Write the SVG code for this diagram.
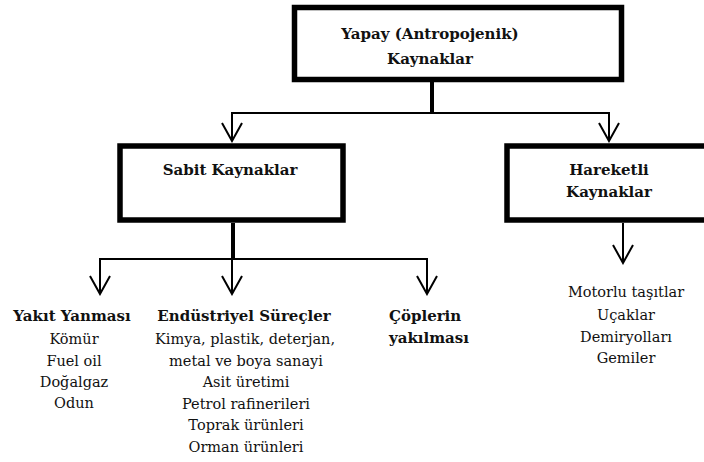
<svg xmlns="http://www.w3.org/2000/svg" width="704" height="462" viewBox="0 0 704 462">
<defs>
<style>
.box{fill:#fff;stroke:#000;stroke-width:5.5}
.c{fill:none;stroke:#000;stroke-width:2}
.thick{fill:none;stroke:#000;stroke-width:4}
.b{font-family:"DejaVu Serif",serif;font-weight:bold;font-size:15px;fill:#111}
.r{font-family:"DejaVu Serif",serif;font-size:14.5px;fill:#111}
</style>
<marker id="ah" viewBox="-20 -12 22 24" markerWidth="22" markerHeight="24" refX="0" refY="0" orient="auto-start-reverse" markerUnits="userSpaceOnUse">
<path d="M-18,-10 L0,0 L-18,10" fill="none" stroke="#000" stroke-width="2"/>
</marker>
</defs>
<rect width="704" height="462" fill="#fff"/>
<g id="connectors">
<line class="thick" x1="432" y1="82" x2="432" y2="113"/>
<polyline class="c" points="232,141 232,113 609,113 609,141" marker-start="url(#ah)" marker-end="url(#ah)"/>
<line class="thick" x1="233" y1="223" x2="233" y2="259"/>
<polyline class="c" points="100,294 100,259 427,259 427,294" marker-start="url(#ah)" marker-end="url(#ah)"/>
<line class="c" x1="232" y1="259" x2="232" y2="294" marker-end="url(#ah)"/>
<line class="c" x1="623" y1="223" x2="623" y2="263" marker-end="url(#ah)"/>
</g>
<g id="top">
<rect class="box" x="294.5" y="7.5" width="327" height="72"/>
<text class="b" x="430" y="39" text-anchor="middle">Yapay (Antropojenik)</text>
<text class="b" x="430" y="64" text-anchor="middle">Kaynaklar</text>
</g>
<g id="sabit">
<rect class="box" x="120" y="146" width="223" height="74"/>
<text class="b" x="230" y="175" text-anchor="middle">Sabit Kaynaklar</text>
</g>
<g id="hareketli">
<rect class="box" x="507" y="146" width="210" height="74"/>
<text class="b" x="609" y="175" text-anchor="middle">Hareketli</text>
<text class="b" x="609" y="197" text-anchor="middle">Kaynaklar</text>
</g>
<g id="yakit">
<text class="b" x="72" y="321" text-anchor="middle">Yakıt Yanması</text>
<text class="r" x="74" y="344" text-anchor="middle">Kömür</text>
<text class="r" x="74" y="366" text-anchor="middle">Fuel oil</text>
<text class="r" x="74" y="387" text-anchor="middle">Doğalgaz</text>
<text class="r" x="74" y="408" text-anchor="middle">Odun</text>
</g>
<g id="endustriyel">
<text class="b" x="244" y="321" text-anchor="middle">Endüstriyel Süreçler</text>
<text class="r" x="245" y="344" text-anchor="middle">Kimya, plastik, deterjan,</text>
<text class="r" x="246" y="366" text-anchor="middle">metal ve boya sanayi</text>
<text class="r" x="246" y="387" text-anchor="middle">Asit üretimi</text>
<text class="r" x="246" y="409" text-anchor="middle">Petrol rafinerileri</text>
<text class="r" x="246" y="430" text-anchor="middle">Toprak ürünleri</text>
<text class="r" x="246" y="452" text-anchor="middle">Orman ürünleri</text>
</g>
<g id="coplerin">
<text class="b" x="389" y="321">Çöplerin</text>
<text class="b" x="389" y="343">yakılması</text>
</g>
<g id="hareketli-list">
<text class="r" x="626" y="297" text-anchor="middle">Motorlu taşıtlar</text>
<text class="r" x="626" y="320" text-anchor="middle">Uçaklar</text>
<text class="r" x="626" y="342" text-anchor="middle">Demiryolları</text>
<text class="r" x="626" y="363" text-anchor="middle">Gemiler</text>
</g>
</svg>
